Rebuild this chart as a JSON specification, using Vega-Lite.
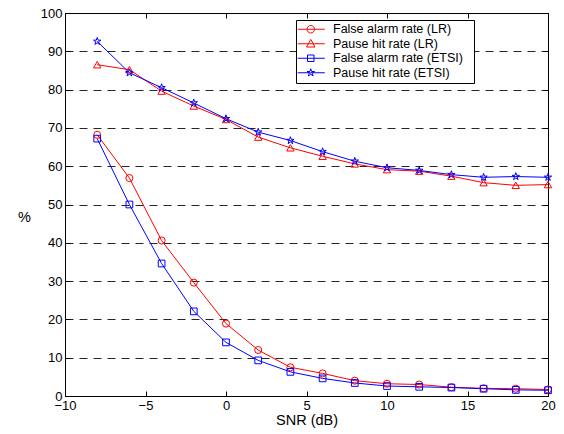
{
  "$schema": "https://vega.github.io/schema/vega-lite/v6.json",
  "width": 483,
  "height": 383,
  "autosize": {"type": "none"},
  "padding": {"left": 65, "top": 13, "right": 16, "bottom": 38},
  "background": "white",
  "config": {
    "view": {"stroke": "black", "strokeWidth": 1},
    "font": "Liberation Sans",
    "axis": {
      "labelFont": "Liberation Sans",
      "labelFontSize": 13,
      "labelColor": "black",
      "titleColor": "black",
      "titleFont": "Liberation Sans",
      "titleFontWeight": "normal",
      "domainColor": "black",
      "tickColor": "black",
      "tickSize": -5,
      "labelPadding": 8,
      "labelFlush": false
    },
    "legend": {
      "orient": "none", "legendX": 231, "legendY": 7,
      "strokeColor": "black", "fillColor": "white", "padding": 3,
      "labelFont": "Liberation Sans", "labelFontSize": 12.5, "labelColor": "black",
      "symbolSize": 100, "symbolStrokeWidth": 1, "labelOffset": 21.5, "rowPadding": 1.5
    }
  },
  "data": {
    "values": [
      {"snr": -8, "value": 68.2, "series": "False alarm rate (LR)"},
      {"snr": -6, "value": 56.9, "series": "False alarm rate (LR)"},
      {"snr": -4, "value": 40.6, "series": "False alarm rate (LR)"},
      {"snr": -2, "value": 29.6, "series": "False alarm rate (LR)"},
      {"snr": 0, "value": 18.9, "series": "False alarm rate (LR)"},
      {"snr": 2, "value": 12.0, "series": "False alarm rate (LR)"},
      {"snr": 4, "value": 7.5, "series": "False alarm rate (LR)"},
      {"snr": 6, "value": 5.9, "series": "False alarm rate (LR)"},
      {"snr": 8, "value": 4.0, "series": "False alarm rate (LR)"},
      {"snr": 10, "value": 3.2, "series": "False alarm rate (LR)"},
      {"snr": 12, "value": 3.0, "series": "False alarm rate (LR)"},
      {"snr": 14, "value": 2.3, "series": "False alarm rate (LR)"},
      {"snr": 16, "value": 2.0, "series": "False alarm rate (LR)"},
      {"snr": 18, "value": 1.9, "series": "False alarm rate (LR)"},
      {"snr": 20, "value": 1.7, "series": "False alarm rate (LR)"},
      {"snr": -8, "value": 86.5, "series": "Pause hit rate (LR)"},
      {"snr": -6, "value": 85.2, "series": "Pause hit rate (LR)"},
      {"snr": -4, "value": 79.6, "series": "Pause hit rate (LR)"},
      {"snr": -2, "value": 75.7, "series": "Pause hit rate (LR)"},
      {"snr": 0, "value": 72.2, "series": "Pause hit rate (LR)"},
      {"snr": 2, "value": 67.6, "series": "Pause hit rate (LR)"},
      {"snr": 4, "value": 64.8, "series": "Pause hit rate (LR)"},
      {"snr": 6, "value": 62.6, "series": "Pause hit rate (LR)"},
      {"snr": 8, "value": 60.6, "series": "Pause hit rate (LR)"},
      {"snr": 10, "value": 59.1, "series": "Pause hit rate (LR)"},
      {"snr": 12, "value": 58.7, "series": "Pause hit rate (LR)"},
      {"snr": 14, "value": 57.4, "series": "Pause hit rate (LR)"},
      {"snr": 16, "value": 55.7, "series": "Pause hit rate (LR)"},
      {"snr": 18, "value": 55.0, "series": "Pause hit rate (LR)"},
      {"snr": 20, "value": 55.2, "series": "Pause hit rate (LR)"},
      {"snr": -8, "value": 67.2, "series": "False alarm rate (ETSI)"},
      {"snr": -6, "value": 50.0, "series": "False alarm rate (ETSI)"},
      {"snr": -4, "value": 34.6, "series": "False alarm rate (ETSI)"},
      {"snr": -2, "value": 22.1, "series": "False alarm rate (ETSI)"},
      {"snr": 0, "value": 14.0, "series": "False alarm rate (ETSI)"},
      {"snr": 2, "value": 9.3, "series": "False alarm rate (ETSI)"},
      {"snr": 4, "value": 6.3, "series": "False alarm rate (ETSI)"},
      {"snr": 6, "value": 4.6, "series": "False alarm rate (ETSI)"},
      {"snr": 8, "value": 3.4, "series": "False alarm rate (ETSI)"},
      {"snr": 10, "value": 2.6, "series": "False alarm rate (ETSI)"},
      {"snr": 12, "value": 2.4, "series": "False alarm rate (ETSI)"},
      {"snr": 14, "value": 2.2, "series": "False alarm rate (ETSI)"},
      {"snr": 16, "value": 1.9, "series": "False alarm rate (ETSI)"},
      {"snr": 18, "value": 1.6, "series": "False alarm rate (ETSI)"},
      {"snr": 20, "value": 1.5, "series": "False alarm rate (ETSI)"},
      {"snr": -8, "value": 92.6, "series": "Pause hit rate (ETSI)"},
      {"snr": -6, "value": 84.4, "series": "Pause hit rate (ETSI)"},
      {"snr": -4, "value": 80.5, "series": "Pause hit rate (ETSI)"},
      {"snr": -2, "value": 76.5, "series": "Pause hit rate (ETSI)"},
      {"snr": 0, "value": 72.4, "series": "Pause hit rate (ETSI)"},
      {"snr": 2, "value": 68.9, "series": "Pause hit rate (ETSI)"},
      {"snr": 4, "value": 66.7, "series": "Pause hit rate (ETSI)"},
      {"snr": 6, "value": 63.8, "series": "Pause hit rate (ETSI)"},
      {"snr": 8, "value": 61.3, "series": "Pause hit rate (ETSI)"},
      {"snr": 10, "value": 59.6, "series": "Pause hit rate (ETSI)"},
      {"snr": 12, "value": 58.9, "series": "Pause hit rate (ETSI)"},
      {"snr": 14, "value": 57.8, "series": "Pause hit rate (ETSI)"},
      {"snr": 16, "value": 57.1, "series": "Pause hit rate (ETSI)"},
      {"snr": 18, "value": 57.3, "series": "Pause hit rate (ETSI)"},
      {"snr": 20, "value": 57.1, "series": "Pause hit rate (ETSI)"}
    ]
  },
  "layer": [
    {
      "mark": {"type": "line", "strokeWidth": 1},
      "encoding": {
        "x": {
          "field": "snr", "type": "quantitative",
          "scale": {"domain": [-10, 20], "nice": false, "zero": false},
          "axis": {"orient": "bottom", "values": [-10, -5, 0, 5, 10, 15, 20], "title": "SNR (dB)", "titleFontSize": 14.5, "titlePadding": 1, "grid": false}
        },
        "y": {
          "field": "value", "type": "quantitative",
          "scale": {"domain": [0, 100], "nice": false, "zero": false},
          "axis": {"orient": "left", "values": [0, 10, 20, 30, 40, 50, 60, 70, 80, 90, 100], "title": "%", "titleAngle": 0, "titleX": -41, "titleY": 204, "titleAlign": "center", "titleBaseline": "middle", "titleFontSize": 14.5, "grid": true, "gridDash": [8, 6], "gridColor": "black", "gridOpacity": 0.85}
        },
        "color": {
          "field": "series", "type": "nominal",
          "scale": {"domain": ["False alarm rate (LR)", "Pause hit rate (LR)", "False alarm rate (ETSI)", "Pause hit rate (ETSI)"], "range": ["#ff0000", "#ff0000", "#0000ff", "#0000ff"]},
          "legend": {
            "title": null,
            "encoding": {
              "symbols": {
                "shape": {"value": {"expr": "datum.value === 'False alarm rate (LR)' ? 'M-1.5,0H3.9M0.35,0A0.75,0.75 0 1,0 1.85,0A0.75,0.75 0 1,0 0.35,0M32.7,0' : datum.value === 'Pause hit rate (LR)' ? 'M-1.5,0H3.9M1.1,-0.85L1.95,0.65L0.25,0.65ZM32.7,0' : datum.value === 'False alarm rate (ETSI)' ? 'M-1.5,0H3.9M0.45,-0.65H1.75V0.65H0.45ZM32.7,0' : 'M-1.5,0H3.9M1.1,-0.8L1.28,-0.247L1.861,-0.247L1.391,0.094L1.57,0.647L1.1,0.306L0.63,0.647L0.809,0.094L0.339,-0.247L0.92,-0.247ZM32.7,0'"}},
                "fill": {"value": "transparent"},
                "strokeWidth": {"value": 1}
              }
            }
          }
        }
      }
    },
    {
      "encoding": {
        "x": {
          "field": "snr", "type": "quantitative",
          "scale": {"domain": [-10, 20], "nice": false, "zero": false},
          "axis": {"orient": "top", "values": [-10, -5, 0, 5, 10, 15, 20], "labels": false, "title": null, "grid": false}
        },
        "y": {
          "field": "value", "type": "quantitative",
          "scale": {"domain": [0, 100], "nice": false, "zero": false},
          "axis": {"orient": "right", "values": [0, 10, 20, 30, 40, 50, 60, 70, 80, 90, 100], "labels": false, "title": null, "grid": false}
        },
        "color": {"field": "series", "type": "nominal"}
      },
      "layer": [
        {
          "transform": [{"filter": {"field": "series", "equal": "False alarm rate (LR)"}}],
          "mark": {"type": "point", "shape": "circle", "filled": false, "size": 50, "strokeWidth": 1, "opacity": 1}
        },
        {
          "transform": [{"filter": {"field": "series", "equal": "Pause hit rate (LR)"}}],
          "mark": {"type": "point", "shape": "triangle-up", "filled": false, "size": 55, "strokeWidth": 1, "opacity": 1}
        },
        {
          "transform": [{"filter": {"field": "series", "equal": "False alarm rate (ETSI)"}}],
          "mark": {"type": "point", "shape": "square", "filled": false, "size": 45, "strokeWidth": 1, "opacity": 1}
        },
        {
          "transform": [{"filter": {"field": "series", "equal": "Pause hit rate (ETSI)"}}],
          "mark": {"type": "point", "shape": "M0,-1L0.2245,-0.309L0.951,-0.309L0.3633,0.118L0.588,0.809L0,0.382L-0.588,0.809L-0.3633,0.118L-0.951,-0.309L-0.2245,-0.309Z", "filled": false, "size": 60, "strokeWidth": 1, "opacity": 1}
        }
      ]
    }
  ],
  "resolve": {"axis": {"x": "independent", "y": "independent"}}
}
